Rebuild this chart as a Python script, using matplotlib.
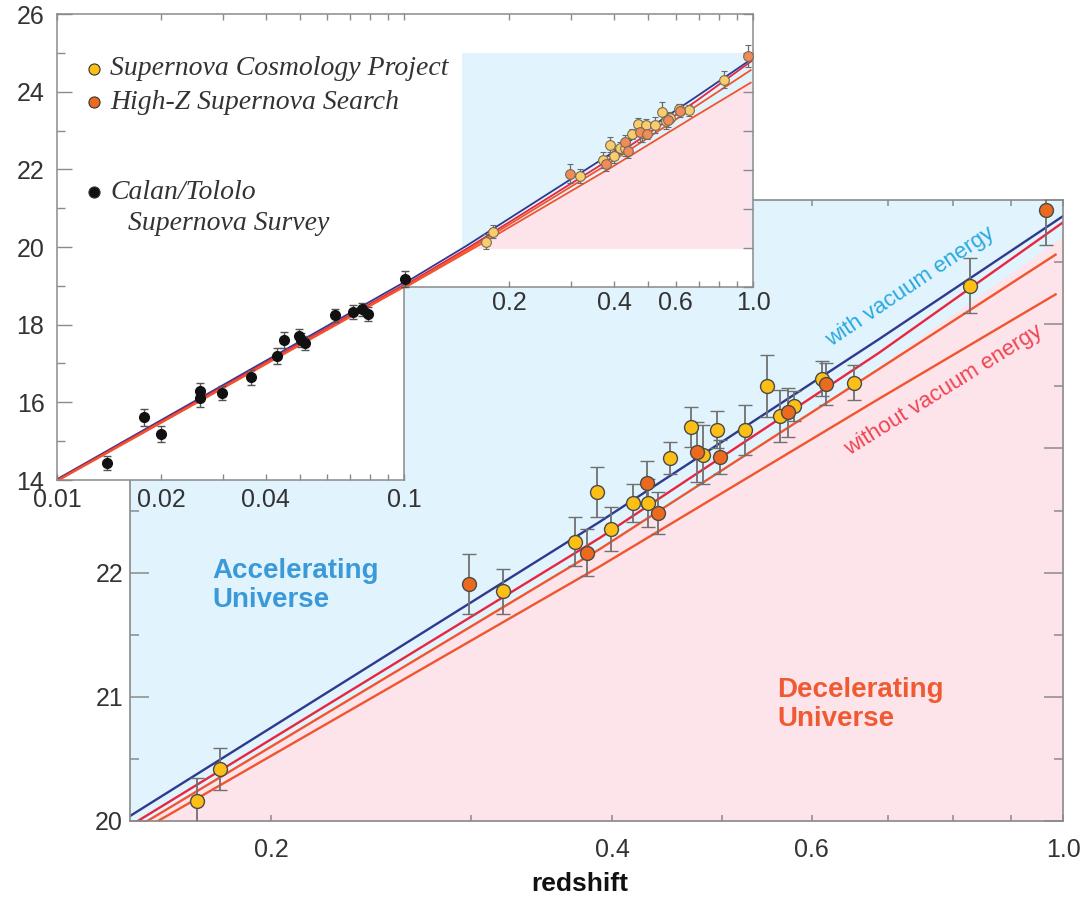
import numpy as np
import matplotlib
matplotlib.use('Agg')
import matplotlib.pyplot as plt
from matplotlib.ticker import FixedLocator, FixedFormatter, NullFormatter
from matplotlib.patches import Rectangle

plt.rcParams['font.family'] = ['Liberation Sans', 'DejaVu Sans']

# ── Supernova Cosmology Project (yellow) ──
scp_z = [0.172, 0.180, 0.320, 0.371, 0.388, 0.399, 0.417, 0.430, 0.450, 0.469,
         0.481, 0.495, 0.524, 0.548, 0.563, 0.579, 0.613, 0.654, 0.828]
scp_m = [20.16, 20.42, 21.85, 22.25, 22.65, 22.35, 22.56, 22.56, 22.92, 23.17,
         22.95, 23.15, 23.15, 23.50, 23.26, 23.34, 23.56, 23.53, 24.31]
scp_e = [0.19, 0.17, 0.18, 0.20, 0.20, 0.18, 0.15, 0.19, 0.13, 0.16,
         0.24, 0.15, 0.20, 0.25, 0.21, 0.12, 0.14, 0.14, 0.22]

# ── High-Z Supernova Search (orange) ──
hz_z = [0.299, 0.380, 0.429, 0.439, 0.475, 0.498, 0.572, 0.618, 0.966]
hz_m = [21.91, 22.16, 22.72, 22.48, 22.97, 22.93, 23.29, 23.52, 24.92]
hz_e = [0.24, 0.19, 0.18, 0.17, 0.24, 0.14, 0.20, 0.17, 0.28]

# ── Calan/Tololo Supernova Survey (black, inset only) ──
ct_z = [0.0139, 0.0178, 0.0199, 0.0258, 0.0258, 0.0299, 0.0362, 0.0431, 0.0451,
        0.0498, 0.0505, 0.0519, 0.0633, 0.0713, 0.0757, 0.0788, 0.101]
ct_m = [14.45, 15.61, 15.18, 16.28, 16.10, 16.23, 16.64, 17.19, 17.60,
        17.70, 17.60, 17.52, 18.24, 18.32, 18.40, 18.27, 19.17]
ct_e = [0.18, 0.22, 0.20, 0.22, 0.22, 0.18, 0.20, 0.20, 0.20,
        0.18, 0.18, 0.18, 0.17, 0.18, 0.17, 0.18, 0.20]

# ── model curves ──
blue_z = [0.01, 0.10, 0.150, 0.390, 0.688, 1.000]
blue_m = [14.02, 19.09, 20.04, 22.41, 23.88, 24.87]
red1_z = [0.01, 0.10, 0.1524, 0.390, 0.688, 1.000]
red1_m = [14.00, 19.03, 20.00, 22.28, 23.77, 24.82]
red2_z = [0.01, 0.10, 0.1554, 0.390, 0.688, 0.985]
red2_m = [13.98, 18.99, 20.00, 22.19, 23.64, 24.56]
red3_z = [0.01, 0.10, 0.1588, 0.390, 0.688, 0.985]
red3_m = [13.97, 18.97, 20.00, 22.05, 23.40, 24.24]

# accelerating / decelerating boundary in the main panel
bound_z = [0.15, 0.476, 0.688, 1.0]
bound_m = [19.93, 22.67, 23.66, 24.71]

BLUE_BG = '#e1f3fc'
PINK_BG = '#fde4ea'
C_BLUE = '#2d3a8e'
C_RED1 = '#e8263f'
C_RED2 = '#f0552f'
YEL = '#fbbf16'
ORA = '#ec6a1e'
SPINE = '#8a8a8a'
TXT = '#333333'

models = [(blue_z, blue_m, C_BLUE), (red1_z, red1_m, C_RED1),
          (red2_z, red2_m, C_RED2), (red3_z, red3_m, C_RED2)]

W, H = 1081, 900
fig = plt.figure(figsize=(W / 100, H / 100), dpi=100)


def box(x0, y0, x1, y1):
    return [x0 / W, 1 - y1 / H, (x1 - x0) / W, (y1 - y0) / H]


ax = fig.add_axes(box(130, 200, 1063, 821), zorder=0)
axR = fig.add_axes(box(404, 14, 753, 287), zorder=1)
axL = fig.add_axes(box(57, 14, 404, 480), zorder=2)

# ── 1. main panel ──
ax.set_xscale('log')
ax.set_xlim(0.15, 1.0)
ax.set_ylim(20, 25)
ax.set_facecolor(BLUE_BG)
ax.fill_between(bound_z, 19, bound_m, color=PINK_BG, lw=0, zorder=0)
for zz, mm, c in models:
    ax.plot(zz, mm, color=c, lw=1.7, zorder=2)

ebkw = dict(fmt='o', ms=10, mec='#4a4a4a', mew=1.0, ecolor='#707070',
            elinewidth=1.3, capsize=5, capthick=1.2, zorder=3)
ax.errorbar(scp_z, scp_m, yerr=scp_e, mfc=YEL, **ebkw)
ax.errorbar(hz_z, hz_m, yerr=hz_e, mfc=ORA, **ebkw)

ax.text(0.1774, 21.90, 'Accelerating\nUniverse', color='#3a9ad9', fontsize=20,
        fontweight='bold', ha='left', va='center', linespacing=1.15)
ax.text(0.559, 20.94, 'Decelerating\nUniverse', color='#f05a32', fontsize=20,
        fontweight='bold', ha='left', va='center', linespacing=1.15)
ax.text(0.733, 24.30, 'with vacuum energy', color='#29a9e0', fontsize=16,
        rotation=34, ha='center', va='center', rotation_mode='anchor')
ax.text(0.785, 23.47, 'without vacuum energy', color='#ee4553', fontsize=16,
        rotation=32, ha='center', va='center', rotation_mode='anchor')

ax.xaxis.set_major_locator(FixedLocator([0.2, 0.4, 0.6, 1.0]))
ax.xaxis.set_major_formatter(FixedFormatter(['0.2', '0.4', '0.6', '1.0']))
ax.xaxis.set_minor_locator(FixedLocator([0.3, 0.5, 0.7, 0.8, 0.9]))
ax.xaxis.set_minor_formatter(NullFormatter())
ax.yaxis.set_major_locator(FixedLocator([20, 21, 22, 23, 24, 25]))
ax.yaxis.set_minor_locator(FixedLocator([20.5, 21.5, 22.5, 23.5, 24.5]))
ax.tick_params(which='both', direction='in', top=True, right=True,
               color=SPINE, labelcolor=TXT, labelsize=18, width=1.1)
ax.tick_params(axis='x', which='both', length=4.5, pad=12)
ax.tick_params(axis='y', which='major', length=14, pad=5)
ax.tick_params(axis='y', which='minor', length=6.5)
for s in ax.spines.values():
    s.set_color(SPINE)
    s.set_linewidth(1.2)
ax.set_xlabel('redshift', fontsize=19, fontweight='bold', color='#111111')
ax.xaxis.set_label_coords(0.482, -0.082)

# ── 2. inset, right part (z > 0.1) ──
axR.set_xscale('log')
axR.set_xlim(0.1, 1.0)
axR.set_ylim(19, 26)
zoom_box = Rectangle((0.147, 20), 1.0 - 0.147, 5, facecolor=BLUE_BG, lw=0, zorder=0)
axR.add_patch(zoom_box)
pink = axR.fill_between(red3_z, 14, red3_m, color=PINK_BG, lw=0, zorder=0.5)
pink.set_clip_path(zoom_box)

# ── 3. inset, left part (z < 0.1) ──
axL.set_xscale('log')
axL.set_xlim(0.01, 0.1)
axL.set_ylim(14, 26)

for a in (axL, axR):
    for zz, mm, c in models:
        a.plot(zz, mm, color=c, lw=1.3, zorder=2)

ikw = dict(fmt='o', ms=7, mec='#7a6a55', mew=0.8, ecolor='#6a6a6a',
           elinewidth=0.9, capsize=2.5, capthick=0.9, zorder=3)
axR.errorbar(scp_z, scp_m, yerr=scp_e, mfc='#f8cd6c', **ikw)
axR.errorbar(hz_z, hz_m, yerr=hz_e, mfc='#ef8c5a', **ikw)

ct = axL.errorbar(ct_z, ct_m, yerr=ct_e, fmt='o', ms=7, mfc='#111111', mec='#111111',
                  ecolor='#555555', elinewidth=1.0, capsize=3, capthick=1.0, zorder=3)
for art in ct.get_children():
    art.set_clip_on(False)

# legend drawn by hand (marker + italic label)
legend_rows = [('Supernova Cosmology Project', YEL, 0.882),
               ('High-Z Supernova Search', ORA, 0.811),
               ('Calan/Tololo', '#111111', 0.618)]
for label, col, yy in legend_rows:
    axL.plot([0.1066], [yy], 'o', ms=8, mfc=col, mec='#333333', mew=0.8,
             transform=axL.transAxes, clip_on=False)
    axL.text(0.1527, yy, label, transform=axL.transAxes, fontsize=20,
             family=['Liberation Serif', 'DejaVu Serif'], style='italic',
             color=TXT, ha='left', va='center')
axL.text(0.2046, 0.5515, 'Supernova Survey', transform=axL.transAxes, fontsize=20,
         family=['Liberation Serif', 'DejaVu Serif'], style='italic',
         color=TXT, ha='left', va='center')

# inset axes / ticks
axL.xaxis.set_major_locator(FixedLocator([0.01, 0.02, 0.04, 0.1]))
axL.xaxis.set_major_formatter(FixedFormatter(['0.01', '0.02', '0.04', '0.1']))
axL.xaxis.set_minor_locator(FixedLocator([0.03, 0.05, 0.06, 0.07, 0.08, 0.09]))
axL.xaxis.set_minor_formatter(NullFormatter())
axL.yaxis.set_major_locator(FixedLocator(list(range(14, 27, 2))))
axL.yaxis.set_minor_locator(FixedLocator(list(range(15, 26, 2))))
axL.tick_params(which='both', direction='in', top=True, right=False,
                color=SPINE, labelcolor=TXT, labelsize=18, width=1.0)
axL.tick_params(axis='x', which='both', length=4, pad=6)
axL.tick_params(axis='y', which='major', length=10.5, pad=9)
axL.tick_params(axis='y', which='minor', length=5.5)
axL.spines['right'].set_bounds(14, 19)

axR.xaxis.set_major_locator(FixedLocator([0.2, 0.4, 0.6, 1.0]))
axR.xaxis.set_major_formatter(FixedFormatter(['0.2', '0.4', '0.6', '1.0']))
axR.xaxis.set_minor_locator(FixedLocator([0.3, 0.5, 0.7, 0.8, 0.9]))
axR.xaxis.set_minor_formatter(NullFormatter())
axR.yaxis.set_major_locator(FixedLocator(list(range(19, 27))))
axR.tick_params(which='both', direction='in', top=True, right=True, left=False,
                labelleft=False, color=SPINE, labelcolor=TXT, labelsize=18, width=1.0)
axR.tick_params(axis='x', which='both', length=4, pad=3)
axR.tick_params(axis='y', which='major', length=7)
axR.spines['left'].set_visible(False)

for a in (axL, axR):
    for s in a.spines.values():
        s.set_color(SPINE)
        s.set_linewidth(1.1)

fig.savefig('out.png', dpi=100)
